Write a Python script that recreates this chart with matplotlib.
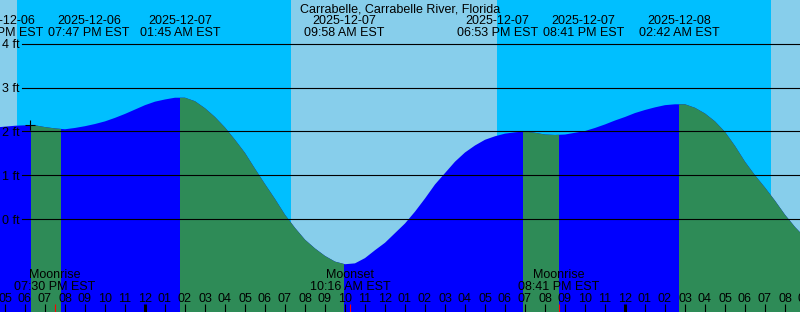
import matplotlib
matplotlib.use('Agg')
import matplotlib.pyplot as plt
import matplotlib.dates as mdates
import pandas as pd

plt.rcParams['font.family'] = ['Liberation Sans', 'DejaVu Sans']
plt.rcParams['font.size'] = 9

title = 'Carrabelle, Carrabelle River, Florida'

# tide height (ft), every half hour from 2025-12-06 16:30
level_start = '2025-12-06 16:30'
levels = [2.09, 2.11, 2.13, 2.14, 2.14, 2.10, 2.07, 2.05, 2.08, 2.12,
          2.17, 2.23, 2.31, 2.40, 2.50, 2.60, 2.68, 2.73, 2.77, 2.77,
          2.69, 2.53, 2.33, 2.09, 1.81, 1.51, 1.15, 0.80, 0.46, 0.10,
          -0.20, -0.47, -0.67, -0.84, -0.97, -1.03, -1.01, -0.89, -0.71, -0.54,
          -0.32, -0.10, 0.17, 0.47, 0.79, 1.05, 1.31, 1.52, 1.68, 1.81,
          1.89, 1.95, 1.98, 2.00, 1.97, 1.93, 1.92, 1.93, 1.97, 2.01,
          2.08, 2.16, 2.25, 2.33, 2.42, 2.49, 2.55, 2.60, 2.62, 2.62,
          2.54, 2.41, 2.23, 1.99, 1.67, 1.31, 1.00, 0.72, 0.42, 0.10,
          -0.18, -0.42]

# high / low tide events
event_times = ['2025-12-06 18:18', '2025-12-06 19:47', '2025-12-07 01:45',
               '2025-12-07 09:58', '2025-12-07 18:53', '2025-12-07 20:41',
               '2025-12-08 02:42', '2025-12-08 10:47']
event_kinds = ['H', 'L', 'H', 'L', 'H', 'L', 'H', 'L']

moon_times = ['2025-12-06 19:30', '2025-12-07 10:16', '2025-12-07 20:41']
moon_names = ['Moonrise', 'Moonset', 'Moonrise']

sunsets = ['2025-12-06 17:36', '2025-12-07 17:36']
sunrises = ['2025-12-07 07:18', '2025-12-08 07:18']

mark_time = '2025-12-06 18:15'
mark_level = 2.14

grid_levels = [0, 1, 2, 3, 4]

view_start = '2025-12-06 16:45'
view_end = '2025-12-08 08:45'

DAY = '#87CEEB'
NIGHT = '#00BFFF'
FLOOD = '#0000FF'
EBB = '#2E8B57'

W, H = 800, 312


def num(s):
    return mdates.date2num(pd.Timestamp(s))


def fy(px):
    # pixel row from the top -> axes fraction
    return 1 - px / H


fig = plt.figure(figsize=(W / 100, H / 100), dpi=100)
fig.patch.set_facecolor(DAY)
ax = fig.add_axes([0, 0, 1, 1])
ax.set_axis_off()
x0, x1 = num(view_start), num(view_end)
ax.set_xlim(x0, x1)
ax.set_ylim(-2.12, 5.0)
xt = ax.get_xaxis_transform()

# day / night background
for s, r in zip(sunsets, sunrises):
    ax.axvspan(num(s), num(r), color=NIGHT, lw=0, zorder=0)

# water: blue when rising, green when falling
t = mdates.date2num(pd.date_range(level_start, periods=len(levels), freq='30min'))
water = ax.fill_between(t, levels, -3, color=FLOOD, lw=0, zorder=1)
ev = [num(e) for e in event_times]
for i, kind in enumerate(event_kinds):
    if kind != 'H':
        continue
    end = ev[i + 1] if i + 1 < len(ev) else x1 + 1
    span = ax.axvspan(ev[i], end, color=EBB, lw=0, zorder=2)
    span.set_clip_path(water.get_paths()[0], ax.transData)

# level lines
for lv in grid_levels:
    ax.axhline(lv, xmin=22 / W, xmax=1, color='black', lw=0.8, zorder=3)
    ax.text(19.5 / W, lv - 0.105, f'{lv} ft', transform=ax.get_yaxis_transform(),
            ha='right', va='baseline', zorder=4)

ax.plot(num(mark_time), mark_level, marker='+', color='black', ms=6.5, mew=0.8, zorder=4)

# title and event labels
ax.text(0.5, fy(12.5), title, transform=ax.transAxes, ha='center', va='baseline')
lab_w = 4.3 / 24
centers = list(ev)
for i in range(len(centers) - 1):
    if centers[i + 1] - centers[i] < lab_w:
        mid = (centers[i] + centers[i + 1]) / 2
        centers[i], centers[i + 1] = mid - lab_w / 2, mid + lab_w / 2
for c, e in zip(centers, event_times):
    ts = pd.Timestamp(e)
    ax.text(c, fy(24), ts.strftime('%Y-%m-%d'), transform=xt, ha='center', va='baseline')
    ax.text(c, fy(36), ts.strftime('%I:%M %p EST'), transform=xt, ha='center', va='baseline')

# hour ticks along the bottom
hours = pd.date_range('2025-12-06 16:00', '2025-12-08 09:00', freq='h')
for h in hours:
    x = mdates.date2num(h)
    ax.vlines(x, 0, 8.5 / H, transform=xt, colors='black',
              lw=2.2 if h.hour == 0 else 0.8, zorder=4)
    ax.text(x, fy(301.7), h.strftime('%I'), transform=xt, ha='center', va='baseline', zorder=4)

# moon events
for m, name in zip(moon_times, moon_names):
    x = num(m)
    ax.vlines(x, 0, 8.5 / H, transform=xt, colors='red', lw=0.8, zorder=5)
    ax.text(x, fy(278), name, transform=xt, ha='center', va='baseline', zorder=4)
    ax.text(x, fy(290), pd.Timestamp(m).strftime('%I:%M %p EST'), transform=xt,
            ha='center', va='baseline', zorder=4)

fig.savefig('out.png', dpi=100, facecolor=DAY)
